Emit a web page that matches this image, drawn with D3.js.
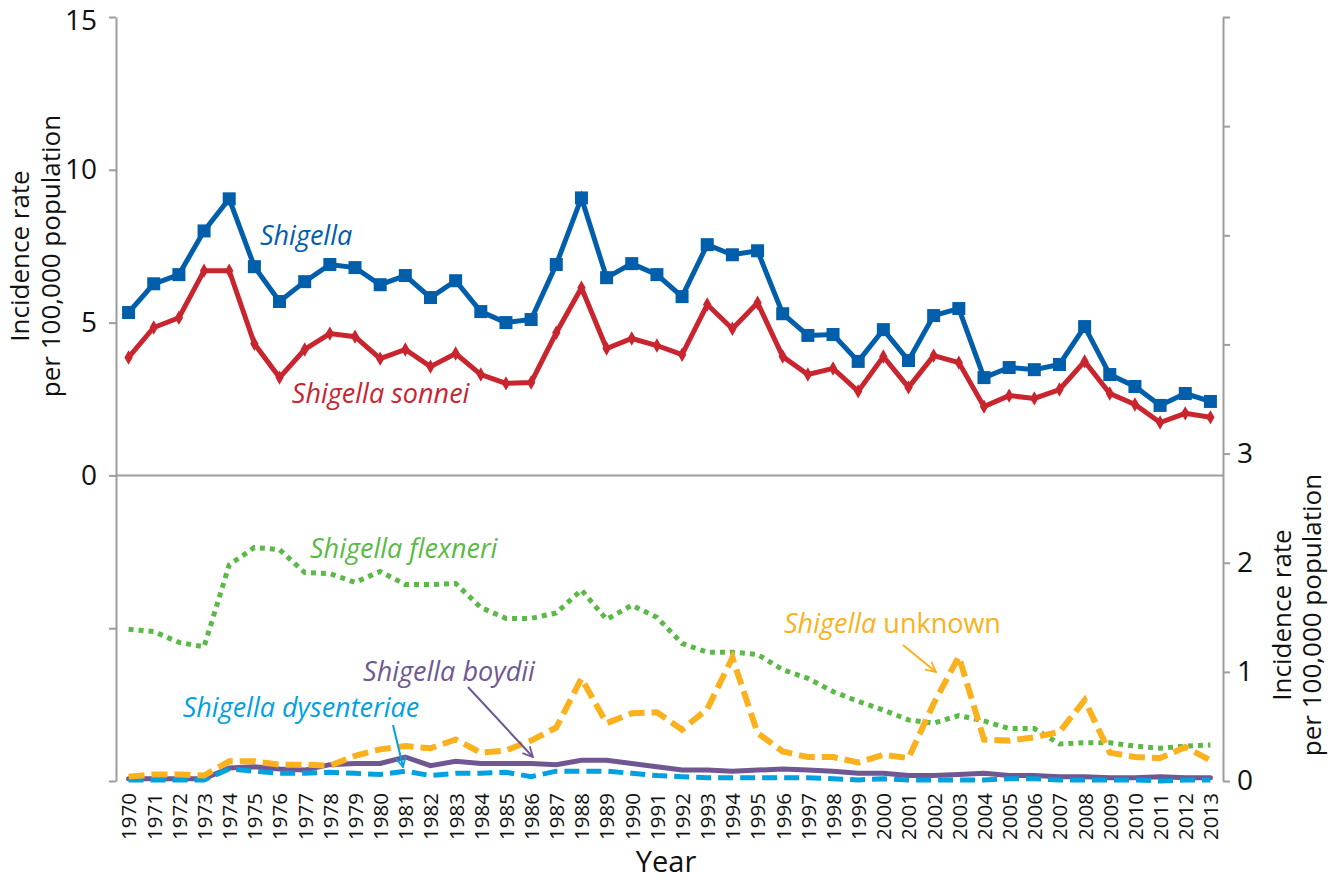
<!DOCTYPE html>
<html><head><meta charset="utf-8">
<script src="https://cdn.jsdelivr.net/npm/d3@7"></script>
<style>
html,body{margin:0;padding:0;background:#fff;}
text{font-family:"Open Sans",sans-serif;}
</style></head>
<body><svg id="c" width="1328" height="882"></svg>
<script>
const years = d3.range(1970, 2014);
const shigella = [5.33,6.27,6.57,8.0,9.05,6.83,5.69,6.34,6.9,6.8,6.24,6.54,5.82,6.37,5.36,5.0,5.1,6.9,9.08,6.47,6.93,6.57,5.85,7.55,7.22,7.35,5.29,4.58,4.61,3.73,4.77,3.76,5.23,5.46,3.2,3.53,3.46,3.63,4.87,3.3,2.91,2.29,2.68,2.42];
const sonnei = [3.86,4.84,5.16,6.7,6.7,4.31,3.2,4.12,4.64,4.54,3.82,4.12,3.56,3.99,3.3,3.01,3.04,4.67,6.14,4.15,4.48,4.25,3.95,5.59,4.8,5.65,3.89,3.3,3.5,2.75,3.89,2.88,3.92,3.69,2.25,2.61,2.52,2.81,3.73,2.68,2.32,1.73,2.03,1.9];
const flexneri = [1.39,1.37,1.27,1.23,1.98,2.14,2.12,1.91,1.9,1.82,1.92,1.8,1.8,1.81,1.59,1.49,1.49,1.54,1.75,1.48,1.61,1.5,1.26,1.18,1.18,1.16,1.02,0.94,0.82,0.73,0.65,0.56,0.53,0.6,0.55,0.48,0.48,0.34,0.35,0.35,0.32,0.3,0.32,0.33];
const unknown = [0.04,0.06,0.06,0.05,0.18,0.18,0.15,0.15,0.14,0.23,0.29,0.32,0.3,0.38,0.26,0.28,0.37,0.49,0.94,0.53,0.62,0.63,0.47,0.66,1.13,0.44,0.27,0.22,0.22,0.17,0.24,0.21,0.71,1.14,0.38,0.37,0.4,0.45,0.74,0.26,0.22,0.21,0.31,0.19];
const boydii = [0.02,0.02,0.02,0.02,0.12,0.13,0.11,0.1,0.15,0.16,0.16,0.22,0.14,0.18,0.16,0.16,0.16,0.15,0.19,0.19,0.16,0.13,0.1,0.1,0.09,0.1,0.11,0.1,0.09,0.07,0.07,0.05,0.05,0.06,0.07,0.05,0.05,0.04,0.04,0.03,0.03,0.04,0.03,0.03];
const dysenteriae = [0.01,0.01,0.01,0.01,0.11,0.09,0.07,0.07,0.08,0.07,0.06,0.09,0.05,0.07,0.07,0.08,0.04,0.09,0.09,0.09,0.07,0.05,0.04,0.03,0.03,0.03,0.03,0.03,0.02,0.01,0.02,0.01,0.01,0.01,0.01,0.02,0.02,0.01,0.01,0.01,0.01,0.0,0.01,0.01];
const leftTicks = [-10,-5,0,5,10,15];
const leftLabels = [0,5,10,15];
const rightTicks = [0,1,2,3,4,5,6,7];
const rightLabels = [0,1,2,3];

const svg = d3.select("#c");
const L = 116, R = 1223, T = 17, B = 781;
const axisCol = "#9d9d9f";
const x = d3.scalePoint().domain(years).range([L, R]).padding(0.5);
const xLin = d3.scaleLinear().domain([1970, 2013]).range([x(1970), x(2013)]);
const yL = d3.scaleLinear().domain([-10, 15]).range([B, T]);
const yR = d3.scaleLinear().domain([0, 7]).range([B, T]);
const TICKFS = 28, TITLEFS = 26, ANNFS = 27;

// left axis
const gL = svg.append("g").attr("transform", `translate(${L},0)`)
  .call(d3.axisLeft(yL).tickValues(leftTicks).tickSize(7).tickSizeOuter(0)
    .tickFormat(d => leftLabels.includes(d) ? d : ""));
gL.selectAll("path,line").attr("stroke", axisCol).attr("stroke-width", 2);
gL.selectAll("text").attr("font-size", TICKFS).attr("fill", "#111").attr("x", -19)
  .attr("y", d => d === 15 ? 4 : 0);

// right axis
const gR = svg.append("g").attr("transform", `translate(${R},0)`)
  .call(d3.axisRight(yR).tickValues(rightTicks).tickSize(7).tickSizeOuter(0)
    .tickFormat(d => rightLabels.includes(d) ? d : ""));
gR.selectAll("path,line").attr("stroke", axisCol).attr("stroke-width", 2);
gR.selectAll("text").attr("font-size", TICKFS).attr("fill", "#111").attr("x", 14);

// zero line of top panel
svg.append("line").attr("x1", L).attr("x2", R).attr("y1", yL(0)).attr("y2", yL(0))
  .attr("stroke", axisCol).attr("stroke-width", 2);

// x axis labels
const gX = svg.append("g").attr("transform", `translate(0,${B})`)
  .call(d3.axisBottom(x).tickSize(0).tickPadding(0));
gX.select(".domain").remove();
gX.selectAll("text").attr("font-size", 20.5).attr("fill", "#111")
  .attr("transform", "rotate(-90)").attr("text-anchor", "end")
  .attr("x", -12).attr("y", 0).attr("dy", "0.36em");

// titles
svg.append("text").attr("x", 666).attr("y", 872).attr("text-anchor", "middle")
  .attr("font-size", 29).attr("fill", "#111").text("Year");
const lt = svg.append("text").attr("transform", `translate(29,256) rotate(-90)`)
  .attr("text-anchor", "middle").attr("font-size", TITLEFS).attr("fill", "#111");
lt.append("tspan").attr("x", 0).attr("y", 0).text("Incidence rate");
lt.append("tspan").attr("x", 0).attr("y", 31).text("per 100,000 population");
const rt = svg.append("text").attr("transform", `translate(1291,615) rotate(-90)`)
  .attr("text-anchor", "middle").attr("font-size", TITLEFS).attr("fill", "#111");
rt.append("tspan").attr("x", 0).attr("y", 0).text("Incidence rate");
rt.append("tspan").attr("x", 0).attr("y", 30).text("per 100,000 population");

// lines
function draw(vals, y, color, w, dash, cap) {
  const line = d3.line().x((d, i) => x(years[i])).y(d => y(d));
  svg.append("path").datum(vals).attr("d", line).attr("fill", "none")
    .attr("stroke", color).attr("stroke-width", w)
    .attr("stroke-dasharray", dash || null).attr("stroke-linecap", cap || "butt")
    .attr("stroke-linejoin", "miter");
}
const C = {blue:"#005eab", red:"#c9252f", green:"#5ab947", orange:"#fbb11d", purple:"#705792", cyan:"#00a1e1"};
draw(flexneri, yR, C.green, 5, "5,5");
draw(boydii, yR, C.purple, 5, null, "round");
draw(dysenteriae, yR, C.cyan, 5, "15,7");
draw(unknown, yR, C.orange, 6, "16,7");
draw(sonnei, yL, C.red, 5);
draw(shigella, yL, C.blue, 5);

svg.append("g").selectAll("path").data(sonnei).join("path")
  .attr("d", d3.symbol(d3.symbolDiamond, 60))
  .attr("transform", (d, i) => `translate(${x(years[i])},${yL(d)})`).attr("fill", C.red);
svg.append("g").selectAll("rect").data(shigella).join("rect")
  .attr("x", (d, i) => x(years[i]) - 6.5).attr("y", d => yL(d) - 6.5)
  .attr("width", 13).attr("height", 13).attr("fill", C.blue);

// annotations
function ann(xv, yv, yScale, color, parts) {
  const t = svg.append("text").attr("x", xLin(xv)).attr("y", yScale(yv))
    .attr("font-size", ANNFS).attr("fill", color);
  parts.forEach(p => t.append("tspan").attr("font-style", p[1] ? "italic" : "normal").text(p[0]));
}
ann(1975.22, 7.55, yL, C.blue, [["Shigella", 1]]);
ann(1976.49, 2.36, yL, C.red, [["Shigella sonnei", 1]]);
ann(1977.21, 2.04, yR, C.green, [["Shigella flexneri", 1]]);
ann(1996.05, 1.356, yR, C.orange, [["Shigella", 1], [" unknown", 0]]);
ann(1979.32, 0.92, yR, C.purple, [["Shigella boydii", 1]]);
ann(1972.15, 0.59, yR, C.cyan, [["Shigella dysenteriae", 1]]);

const defs = svg.append("defs");
function arrow(x1, y1, x2, y2, color, id) {
  defs.append("marker").attr("id", id).attr("viewBox", "0 0 12 12").attr("refX", 11).attr("refY", 6)
    .attr("markerWidth", 12).attr("markerHeight", 12).attr("markerUnits", "userSpaceOnUse")
    .attr("orient", "auto").append("path").attr("d", "M1,1 L11,6 L1,11")
    .attr("fill", "none").attr("stroke", color).attr("stroke-width", 1.8);
  svg.append("line").attr("x1", xLin(x1)).attr("y1", yR(y1)).attr("x2", xLin(x2)).attr("y2", yR(y2))
    .attr("stroke", color).attr("stroke-width", 2).attr("marker-end", `url(#${id})`);
}
arrow(2000.78, 1.246, 2002.09, 0.999, C.orange, "aO");
arrow(1983.49, 0.861, 1986.07, 0.22, C.purple, "aP");
arrow(1980.51, 0.513, 1980.91, 0.128, C.cyan, "aC");
</script></body></html>
